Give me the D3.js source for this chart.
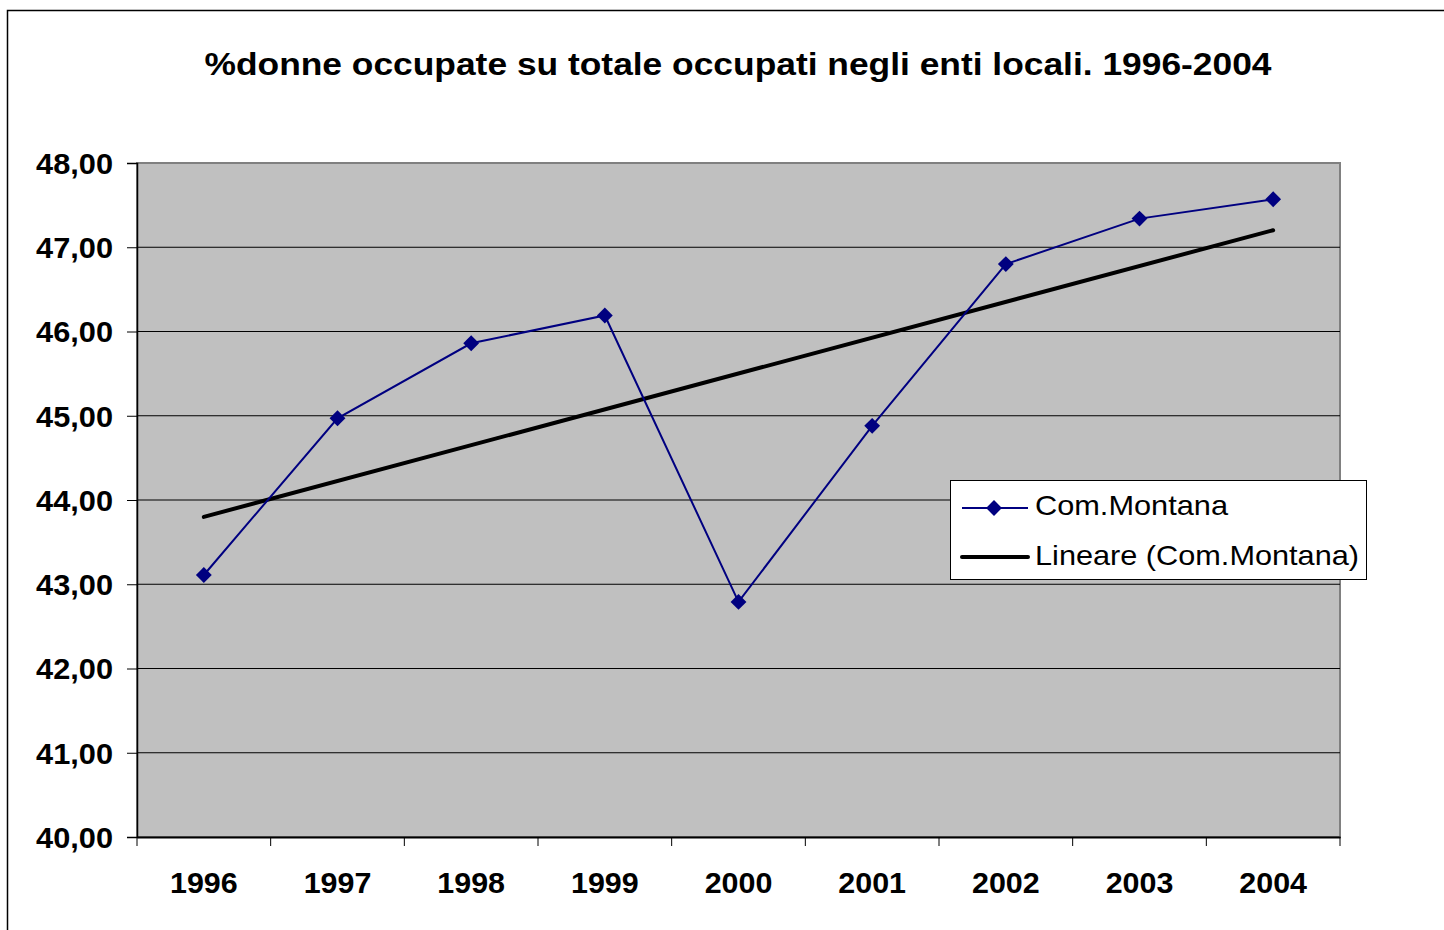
<!DOCTYPE html>
<html><head><meta charset="utf-8">
<script src="https://cdn.jsdelivr.net/npm/d3@7"></script>
<style>body{margin:0;background:#fff}svg{display:block;font-family:"Liberation Sans",Arial,sans-serif}</style>
</head><body>
<svg id="c" width="1444" height="930"></svg>
<script>
const categories = ["1996","1997","1998","1999","2000","2001","2002","2003","2004"];
const values = [43.11, 44.97, 45.86, 46.19, 42.79, 44.88, 46.80, 47.34, 47.57];
const yTicks = [40,41,42,43,44,45,46,47,48];
const title = "%donne occupate su totale occupati negli enti locali. 1996-2004";
const seriesName = "Com.Montana";
const trendName = "Lineare (Com.Montana)";

const svg = d3.select("#c");
const L=137, R=1340, T=163, B=837;
const x = d3.scaleBand().domain(categories).range([L,R]);
const y = d3.scaleLinear().domain([40,48]).range([B,T]);

function stretch(sel, k){
  sel.each(function(){
    const w = this.getComputedTextLength();
    d3.select(this).attr("textLength", w*k).attr("lengthAdjust","spacingAndGlyphs");
  });
}

// outer frame
svg.append("rect").attr("x",7.5).attr("y",10.5).attr("width",1450).attr("height",940)
  .attr("fill","#fff").attr("stroke","#000").attr("stroke-width",1.5);

const tt = svg.append("text").attr("x",738).attr("y",75).attr("text-anchor","middle")
  .attr("font-weight","bold").attr("font-size",32).text(title);
tt.attr("textLength",1067).attr("lengthAdjust","spacingAndGlyphs");

// plot area
svg.append("rect").attr("x",L).attr("y",T).attr("width",R-L).attr("height",B-T)
  .attr("fill","#c0c0c0").attr("stroke","#808080").attr("stroke-width",2);

// gridlines
svg.append("g").selectAll("line").data(yTicks.slice(1,-1)).join("line")
  .attr("x1",L).attr("x2",R).attr("y1",d=>y(d)).attr("y2",d=>y(d))
  .attr("stroke","#000").attr("stroke-width",1);

// y axis
const yAxis = svg.append("g").attr("transform",`translate(${L},0)`)
  .call(d3.axisLeft(y).tickValues(yTicks).tickSize(10).tickPadding(14)
    .tickFormat(d=>d3.format(".2f")(d).replace(".",",")));
yAxis.select(".domain").attr("stroke","#000").attr("stroke-width",1.5);
yAxis.selectAll("line").attr("stroke","#000");
yAxis.selectAll("text").attr("font-size",29).attr("font-weight","bold")
  .attr("font-family","Liberation Sans, Arial, sans-serif").attr("fill","#000").attr("dy","0.36em")
  .call(stretch, 1.06);

// x axis
const xAxis = svg.append("g").attr("transform",`translate(0,${B})`)
  .call(d3.axisBottom(x).tickSize(0).tickPadding(46));
xAxis.select(".domain").attr("stroke","#000").attr("stroke-width",2);
xAxis.selectAll("text").attr("font-size",29).attr("font-weight","bold")
  .attr("font-family","Liberation Sans, Arial, sans-serif").attr("fill","#000").attr("dy","0.35em")
  .call(stretch, 1.05);
const bounds = categories.map(c=>x(c)).concat([R]);
svg.append("g").selectAll("line").data(bounds).join("line")
  .attr("x1",d=>d).attr("x2",d=>d).attr("y1",B).attr("y2",B+9)
  .attr("stroke","#000").attr("stroke-width",1);

const cx = c => x(c)+x.bandwidth()/2;

// linear trend (least squares)
const n = values.length, xs = d3.range(n);
const mx = d3.mean(xs), my = d3.mean(values);
const slope = d3.sum(xs,(i)=> (i-mx)*(values[i]-my)) / d3.sum(xs,i=>(i-mx)**2);
const icpt = my - slope*mx;
svg.append("line").attr("x1",cx(categories[0])).attr("y1",y(icpt))
  .attr("x2",cx(categories[n-1])).attr("y2",y(icpt+slope*(n-1)))
  .attr("stroke","#000").attr("stroke-width",4).attr("stroke-linecap","round");

// series
svg.append("path").datum(values)
  .attr("d", d3.line().x((d,i)=>cx(categories[i])).y(d=>y(d)))
  .attr("fill","none").attr("stroke","#000080").attr("stroke-width",2);
const diamond = d3.symbol().type(d3.symbolDiamond2).size(160);
svg.append("g").selectAll("path").data(values).join("path")
  .attr("d", diamond)
  .attr("transform",(d,i)=>`translate(${cx(categories[i])},${y(d)})`)
  .attr("fill","#000080");

// legend
const lg = svg.append("g");
lg.append("rect").attr("x",950.5).attr("y",480.5).attr("width",416).attr("height",99)
  .attr("fill","#fff").attr("stroke","#000").attr("stroke-width",1);
lg.append("line").attr("x1",962).attr("x2",1028).attr("y1",508).attr("y2",508)
  .attr("stroke","#000080").attr("stroke-width",2);
lg.append("path").attr("d",diamond).attr("transform","translate(994,508)").attr("fill","#000080");
lg.append("line").attr("x1",962).attr("x2",1028).attr("y1",557).attr("y2",557)
  .attr("stroke","#000").attr("stroke-width",4).attr("stroke-linecap","round");
lg.append("text").attr("x",1035).attr("y",515).attr("font-size",28).text(seriesName)
  .attr("textLength",193).attr("lengthAdjust","spacingAndGlyphs");
lg.append("text").attr("x",1035).attr("y",565).attr("font-size",28).text(trendName)
  .attr("textLength",324).attr("lengthAdjust","spacingAndGlyphs");
</script>
</body></html>
